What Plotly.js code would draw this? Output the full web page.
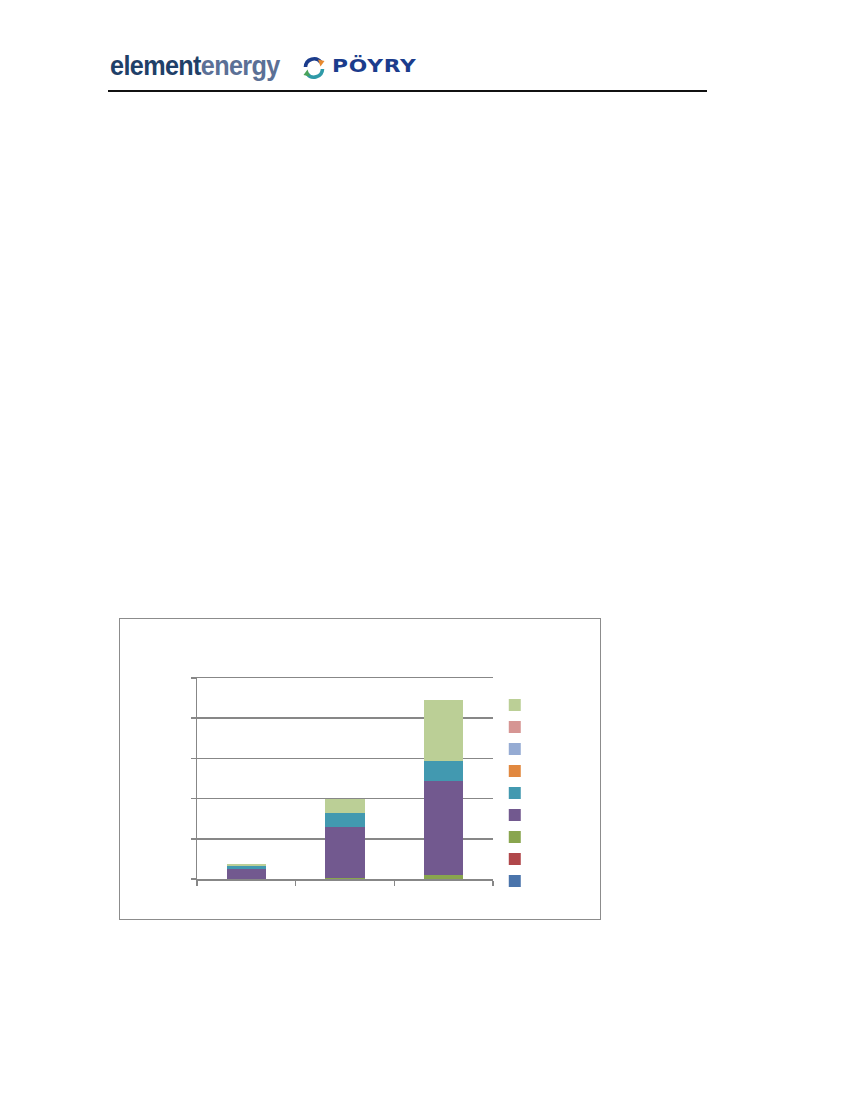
<!DOCTYPE html>
<html>
<head>
<meta charset="utf-8">
<script src="https://cdn.plot.ly/plotly-3.0.1.min.js"></script>
<style>
  html, body { margin: 0; padding: 0; background: #ffffff; }
  #page { position: relative; width: 850px; height: 1100px; overflow: hidden; }
  #brand1 { position: absolute; left: 110px; top: 50px; font-family: "Liberation Sans", Arial, sans-serif; font-weight: bold; font-size: 28px; letter-spacing: -0.7px; transform: scaleX(0.9); transform-origin: 0 0; white-space: nowrap; }
  #brand1 .a { color: #1f4068; }
  #brand1 .b { color: #5b7096; }
  #logo2 { position: absolute; left: 302px; top: 56px; }
  #brand2 { position: absolute; left: 332px; top: 56px; font-family: "DejaVu Sans", "Liberation Sans", sans-serif; font-weight: bold; font-size: 17px; color: #1b3c8c; letter-spacing: 0.6px; transform: scaleX(1.28); transform-origin: 0 0; white-space: nowrap; }
  #rule { position: absolute; left: 108px; top: 90px; width: 599px; height: 0; border-top: 2px solid #111; }
  #chart { position: absolute; left: 119px; top: 618px; width: 480px; height: 300px; border: 1px solid #8c8c8c; }
</style>
</head>
<body>
<div id="page">
  <div id="brand1"><span class="a">element</span><span class="b">energy</span></div>
  <svg id="logo2" width="24" height="24" viewBox="0 0 24 24">
    <path d="M3.5,11 A8.5,8.5 0 0 1 19,6.5" fill="none" stroke="#1b3c8c" stroke-width="3.6"/>
    <path d="M16,3.5 L22.5,5 L18.5,10.5 Z" fill="#e8892e"/>
    <path d="M20.5,13 A8.5,8.5 0 0 1 5,17.5" fill="none" stroke="#2f9aa8" stroke-width="3.6"/>
    <path d="M8,20.5 L1.5,19 L5.5,13.5 Z" fill="#4aa35a"/>
  </svg>
  <div id="brand2">PÖYRY</div>
  <div id="rule"></div>
  <div id="chart"></div>
</div>
<script>
const categories = ["A", "B", "C"];
const seriesNames = ["", "", "", "", "", "", "", "", ""];
const seriesColors = ["#4a74ab", "#b0474a", "#89a54e", "#72598f", "#4299b0", "#e1883f", "#95abd3", "#d69593", "#bbcf96"];
const s1 = [0, 0, 0];
const s2 = [0, 0, 0];
const s3 = [0.01, 0.03, 0.11];
const s4 = [0.25, 1.27, 2.33];
const s5 = [0.07, 0.33, 0.50];
const s6 = [0, 0, 0];
const s7 = [0, 0, 0];
const s8 = [0, 0, 0];
const s9 = [0.035, 0.36, 1.52];
const seriesValues = [s1, s2, s3, s4, s5, s6, s7, s8, s9];

const traces = seriesValues.map((v, i) => ({
  type: "bar",
  x: categories,
  y: v,
  name: seriesNames[i],
  marker: { color: seriesColors[i], line: { width: 0 } },
  hoverinfo: "none"
}));

const grid = "#878787";
const layout = {
  width: 480,
  height: 300,
  margin: { l: 77, r: 107, t: 59, b: 40 },
  paper_bgcolor: "#ffffff",
  plot_bgcolor: "#ffffff",
  barmode: "stack",
  bargap: 0.6,
  showlegend: true,
  legend: {
    x: 1.006, xanchor: "left",
    y: 0.945, yanchor: "top",
    traceorder: "reversed",
    font: { family: "Liberation Sans, Arial, sans-serif", size: 14.6, color: "#000" },
    itemwidth: 30,
    bgcolor: "rgba(0,0,0,0)"
  },
  xaxis: {
    type: "category",
    showticklabels: false,
    showgrid: false,
    showline: true,
    mirror: true,
    linecolor: grid,
    linewidth: 1.5,
    ticks: "outside",
    tickson: "boundaries",
    ticklen: 5,
    tickwidth: 1.5,
    tickcolor: grid,
    zeroline: false
  },
  yaxis: {
    range: [0, 5],
    dtick: 1,
    showticklabels: false,
    showgrid: true,
    gridcolor: grid,
    gridwidth: 1.5,
    showline: true,
    linecolor: grid,
    linewidth: 1.5,
    ticks: "outside",
    ticklen: 5,
    tickwidth: 1.5,
    tickcolor: grid,
    zeroline: false
  },
  font: { family: "Liberation Sans, Arial, sans-serif" }
};

Plotly.newPlot("chart", traces, layout, { staticPlot: true, displayModeBar: false });
</script>
</body>
</html>
